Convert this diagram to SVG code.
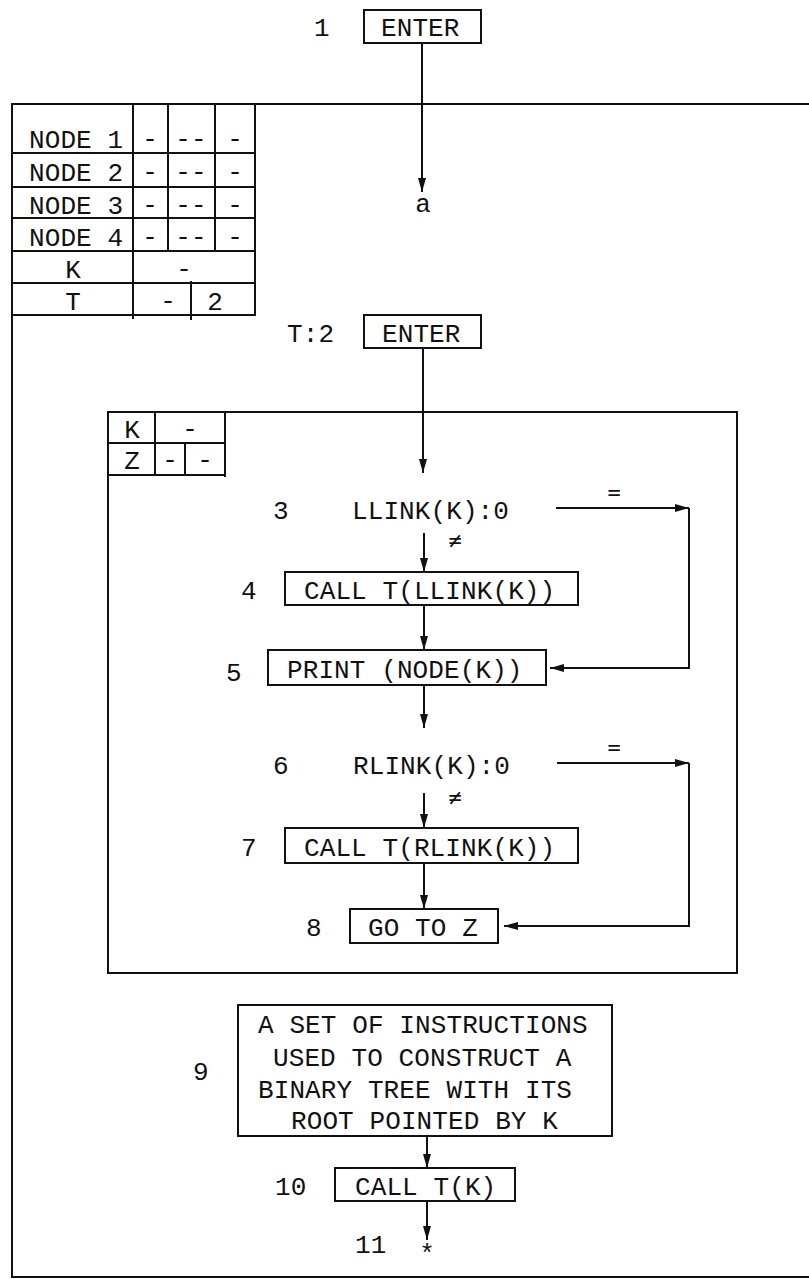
<svg xmlns="http://www.w3.org/2000/svg" width="809" height="1279" viewBox="0 0 809 1279">
<style>
.t{font-family:"Liberation Mono","DejaVu Sans Mono",monospace;font-size:26px;letter-spacing:0.1px;fill:#111}
.s{font-family:"DejaVu Sans Mono","Liberation Mono",monospace;font-size:22px;fill:#111}
.b{fill:none;stroke:#111;stroke-width:2}
.c{fill:none;stroke:#111;stroke-width:2}
</style>
<defs>
<marker id="arr" viewBox="0 0 14 8" refX="14" refY="4" markerWidth="14" markerHeight="8" orient="auto" markerUnits="userSpaceOnUse">
<path d="M0,0 L14,4 L0,8 Z" fill="#111"/>
</marker>
</defs>
<rect width="809" height="1279" fill="#fff"/>
<g id="outer-frame">
<path class="b" d="M812,104 H12 V1277 H812"/>
</g>
<g id="table-global">
<path class="b" d="M12,153 H255 M12,187 H255 M12,218 H255 M12,251 H255 M12,283 H255 M12,315 H255 M133,104 V319 M255,104 V316 M168,104 V251 M215,104 V251 M191,281 V320"/>
<text class="t" x="29" y="148">NODE 1</text>
<text class="t" x="29" y="181">NODE 2</text>
<text class="t" x="29" y="214">NODE 3</text>
<text class="t" x="29" y="246">NODE 4</text>
<text class="t" x="73" y="278" text-anchor="middle">K</text>
<text class="t" x="73" y="310" text-anchor="middle">T</text>
<text class="t" x="150" y="147" text-anchor="middle">-</text>
<text class="t" x="191" y="147" text-anchor="middle" letter-spacing="0">--</text>
<text class="t" x="235" y="147" text-anchor="middle">-</text>
<text class="t" x="150" y="180" text-anchor="middle">-</text>
<text class="t" x="191" y="180" text-anchor="middle" letter-spacing="0">--</text>
<text class="t" x="235" y="180" text-anchor="middle">-</text>
<text class="t" x="150" y="213" text-anchor="middle">-</text>
<text class="t" x="191" y="213" text-anchor="middle" letter-spacing="0">--</text>
<text class="t" x="235" y="213" text-anchor="middle">-</text>
<text class="t" x="150" y="245" text-anchor="middle">-</text>
<text class="t" x="191" y="245" text-anchor="middle" letter-spacing="0">--</text>
<text class="t" x="235" y="245" text-anchor="middle">-</text>
<text class="t" x="184" y="277" text-anchor="middle">-</text>
<text class="t" x="168" y="309" text-anchor="middle">-</text>
<text class="t" x="215" y="310" text-anchor="middle">2</text>
</g>
<g id="n1">
<text class="t" x="314" y="36">1</text>
<rect class="b" x="364" y="10" width="117" height="33"/>
<text class="t" x="381" y="36">ENTER</text>
</g>
<g id="na">
<text class="t" x="423" y="212" text-anchor="middle">a</text>
</g>
<g id="n2">
<text class="t" x="287" y="342">T:2</text>
<rect class="b" x="364" y="315" width="117" height="33"/>
<text class="t" x="382" y="342">ENTER</text>
</g>
<g id="inner-frame">
<rect class="b" x="108" y="412" width="629" height="561"/>
<path class="b" d="M108,443 H225 M108,475 H225 M155,412 V475 M225,412 V477 M185,443 V475"/>
<text class="t" x="132" y="438" text-anchor="middle">K</text>
<text class="t" x="190" y="437" text-anchor="middle">-</text>
<text class="t" x="132" y="469" text-anchor="middle">Z</text>
<text class="t" x="170" y="468" text-anchor="middle">-</text>
<text class="t" x="205" y="468" text-anchor="middle">-</text>
</g>
<g id="n3">
<text class="t" x="273" y="519">3</text>
<text class="t" x="352" y="519">LLINK(K):0</text>
</g>
<g id="n4">
<text class="t" x="241" y="599">4</text>
<rect class="b" x="285" y="572" width="293" height="33"/>
<text class="t" x="304" y="599">CALL T(LLINK(K))</text>
</g>
<g id="n5">
<text class="t" x="226" y="681">5</text>
<rect class="b" x="268" y="650" width="278" height="35"/>
<text class="t" x="287" y="678">PRINT (NODE(K))</text>
</g>
<g id="n6">
<text class="t" x="273" y="774">6</text>
<text class="t" x="353" y="774">RLINK(K):0</text>
</g>
<g id="n7">
<text class="t" x="241" y="856">7</text>
<rect class="b" x="285" y="828" width="293" height="35"/>
<text class="t" x="304" y="856">CALL T(RLINK(K))</text>
</g>
<g id="n8">
<text class="t" x="306" y="936">8</text>
<rect class="b" x="350" y="909" width="148" height="34"/>
<text class="t" x="368" y="936">GO TO Z</text>
</g>
<g id="n9">
<text class="t" x="193" y="1080">9</text>
<rect class="b" x="238" y="1005" width="374" height="131"/>
<text class="t" x="258" y="1033">A SET OF INSTRUCTIONS</text>
<text class="t" x="273" y="1066">USED TO CONSTRUCT A</text>
<text class="t" x="258" y="1098">BINARY TREE WITH ITS</text>
<text class="t" x="291" y="1129">ROOT POINTED BY K</text>
</g>
<g id="n10">
<text class="t" x="275" y="1195">10</text>
<rect class="b" x="335" y="1168" width="180" height="33"/>
<text class="t" x="355" y="1195">CALL T(K)</text>
</g>
<g id="n11">
<text class="t" x="355" y="1253">11</text>
<text class="t" x="427" y="1262" text-anchor="middle">*</text>
</g>
<g id="connectors">
<path class="c" marker-end="url(#arr)" d="M422,43 V192"/>
<path class="c" marker-end="url(#arr)" d="M423,348 V473"/>
<path class="c" marker-end="url(#arr)" d="M424,533 V572"/>
<path class="c" marker-end="url(#arr)" d="M424,605 V650"/>
<path class="c" marker-end="url(#arr)" d="M424,685 V728"/>
<path class="c" marker-end="url(#arr)" d="M424,793 V828"/>
<path class="c" marker-end="url(#arr)" d="M424,863 V909"/>
<path class="c" marker-end="url(#arr)" d="M556,508 H689"/>
<path class="c" marker-end="url(#arr)" d="M689,508 V668 H550"/>
<path class="c" marker-end="url(#arr)" d="M557,763 H689"/>
<path class="c" marker-end="url(#arr)" d="M689,763 V926 H504"/>
<path class="c" marker-end="url(#arr)" d="M427,1136 V1168"/>
<path class="c" marker-end="url(#arr)" d="M427,1201 V1240"/>
<text class="s" x="614" y="500" text-anchor="middle">=</text>
<text class="s" x="455" y="548" text-anchor="middle">≠</text>
<text class="s" x="614" y="755" text-anchor="middle">=</text>
<text class="s" x="455" y="805" text-anchor="middle">≠</text>
</g>
</svg>
